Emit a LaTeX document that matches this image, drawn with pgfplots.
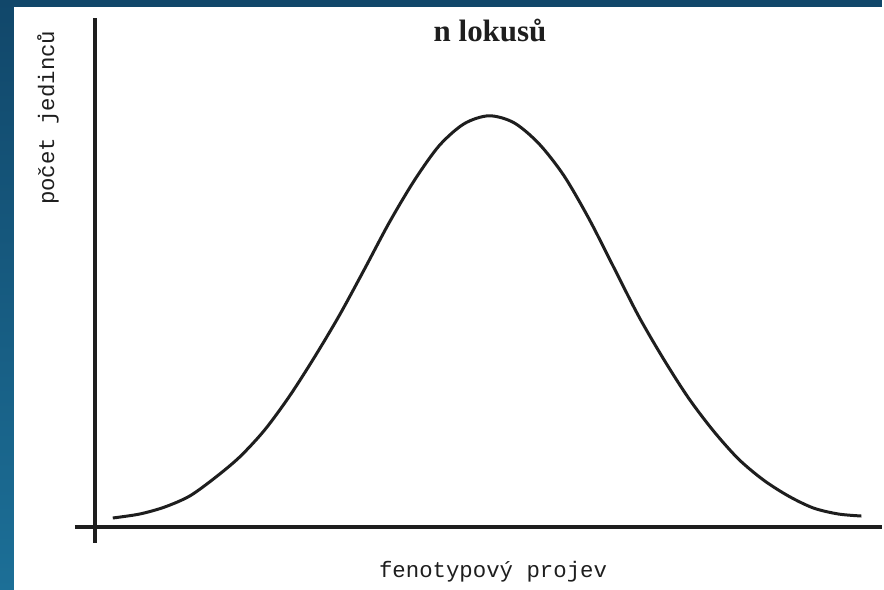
\documentclass[border=0pt]{standalone}
\usepackage{pgfplots}
\pgfplotsset{compat=1.18}
\usepackage{fontspec}
\setmainfont{Liberation Serif}
\newfontfamily\monofont{Liberation Mono}
\definecolor{frametop}{HTML}{11476A}
\definecolor{framebot}{HTML}{1C6F97}
\definecolor{ink}{HTML}{1E1E1E}
\begin{document}
\begin{tikzpicture}
% page background and blue frame (pixel grid: 1px = 0.5pt)
\fill[white] (0,0) rectangle (442pt,295.5pt);
\shade[bottom color=framebot, top color=frametop] (0,0) rectangle (7pt,295.5pt);
\fill[frametop] (0,292pt) rectangle (442pt,295.5pt);
\begin{axis}[
  at={(0,0)}, anchor=south west,
  scale only axis, width=442pt, height=295.5pt,
  xmin=0, xmax=884, ymin=-63, ymax=528,
  axis lines=none, ticks=none, clip=false,
]
% axis lines
\draw[ink, line width=1.7pt] (axis cs:75,0) -- (axis cs:884,0);
\draw[ink, line width=1.7pt] (axis cs:95,-16) -- (axis cs:95,510);
% bell curve
\addplot[ink, line width=1.5pt, smooth] coordinates {
(113,9) (140,13) (165,20) (190,31) (215,49) (240,70) (265,97) (290,131)
(315,170) (340,212) (365,258) (390,305) (415,347) (440,382) (465,404)
(490,412) (515,405) (540,384) (565,352) (590,309) (615,260) (640,211)
(665,168) (690,129) (715,96) (740,68) (765,47) (790,31) (815,19)
(840,13) (863,11)
};
\node[font=\fontsize{15.5}{18}\selectfont\bfseries, text=ink] at (axis cs:491,497) {n lokusů};
\node[font=\monofont\fontsize{11.2}{13}\selectfont, text=ink, rotate=90] at (axis cs:48,410) {počet jedinců};
\node[font=\monofont\fontsize{11.2}{13}\selectfont, text=ink] at (axis cs:494,-45) {fenotypový projev};
\end{axis}
\end{tikzpicture}
\end{document}
